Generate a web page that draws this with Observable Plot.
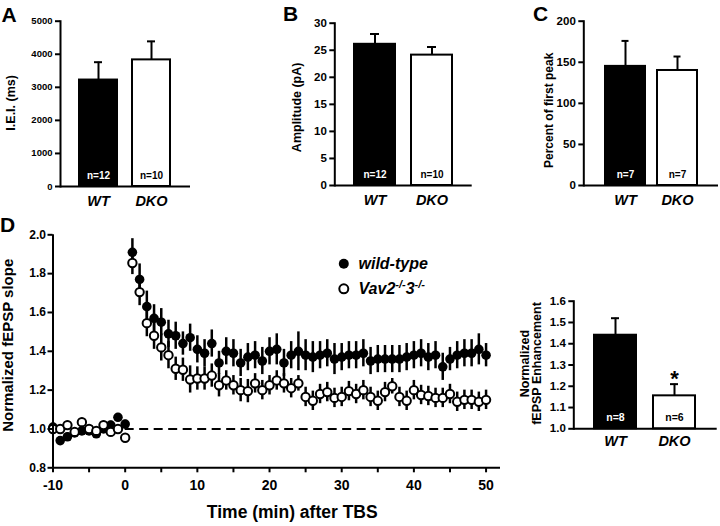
<!DOCTYPE html>
<html><head><meta charset="utf-8">
<script src="https://cdn.jsdelivr.net/npm/d3@7"></script>
<script src="https://cdn.jsdelivr.net/npm/@observablehq/plot@0.6"></script>
<style>
body{margin:0;background:#fff;}
#root{position:relative;width:720px;height:526px;overflow:hidden;font-family:"Liberation Sans",Arial,sans-serif;background:#fff;}
#root svg{position:absolute;overflow:visible;}
.letter{position:absolute;font-weight:bold;font-size:21px;line-height:21px;color:#000;}
</style></head><body><div id="root"></div>
<script>
// ---------- data ----------
const groups = ["WT", "DKO"];
// Panel A
const ieiMean = [3220, 3830];
const ieiSem = [540, 560];
const ieiN = [12, 10];
const ieiTicks = [0, 1000, 2000, 3000, 4000, 5000];
// Panel B
const ampMean = [26.1, 24.1];
const ampSem = [1.9, 1.5];
const ampN = [12, 10];
const ampTicks = [0, 5, 10, 15, 20, 25, 30];
// Panel C
const pctMean = [145, 140];
const pctSem = [31, 17];
const pctN = [7, 7];
const pctTicks = [0, 50, 100, 150, 200];
// Panel D (time course)
const tD = [-10,-9,-8,-7,-6,-5,-4,-3,-2,-1,0,
  1,2,3,4,5,6,7,8,9,10,11,12,13,14,15,16,17,18,19,20,
  21,22,23,24,25,26,27,28,29,30,31,32,33,34,35,36,37,38,39,40,
  41,42,43,44,45,46,47,48,49,50];
const wtMean = [1.01,0.94,0.96,0.98,0.99,0.99,0.975,1.00,1.02,1.06,1.025,
  1.91,1.77,1.63,1.57,1.55,1.49,1.48,1.44,1.47,1.41,
  1.39,1.44,1.34,1.40,1.39,1.34,1.37,1.38,1.35,1.40,
  1.41,1.34,1.38,1.40,1.38,1.37,1.38,1.39,1.36,1.37,
  1.38,1.38,1.39,1.35,1.36,1.36,1.36,1.36,1.37,1.38,
  1.39,1.37,1.38,1.32,1.36,1.38,1.39,1.39,1.41,1.38];
const wtSem = [0.02,0.02,0.02,0.02,0.02,0.02,0.02,0.02,0.02,0.02,0.02,
  0.07,0.08,0.08,0.07,0.07,0.07,0.07,0.06,0.07,0.07,
  0.07,0.07,0.06,0.07,0.07,0.07,0.07,0.07,0.07,0.07,
  0.08,0.07,0.07,0.10,0.08,0.08,0.07,0.07,0.08,0.07,
  0.07,0.07,0.07,0.07,0.07,0.07,0.07,0.07,0.07,0.07,
  0.07,0.07,0.07,0.07,0.06,0.07,0.07,0.07,0.08,0.06];
const dkoMean = [1.00,1.00,1.02,0.985,1.035,1.00,0.99,1.02,0.985,1.00,0.955,
  1.855,1.705,1.545,1.48,1.42,1.38,1.31,1.305,1.255,1.26,
  1.26,1.275,1.225,1.25,1.225,1.20,1.195,1.235,1.20,1.225,
  1.25,1.235,1.21,1.235,1.165,1.145,1.18,1.19,1.16,1.165,
  1.195,1.18,1.20,1.165,1.145,1.19,1.22,1.165,1.145,1.20,
  1.175,1.17,1.16,1.16,1.18,1.14,1.15,1.15,1.14,1.15];
const dkoSem = [0.02,0.02,0.02,0.02,0.02,0.02,0.02,0.02,0.02,0.02,0.02,
  0.06,0.07,0.07,0.07,0.07,0.07,0.06,0.06,0.07,0.06,
  0.06,0.06,0.06,0.05,0.05,0.06,0.06,0.05,0.05,0.05,
  0.05,0.05,0.05,0.04,0.05,0.05,0.05,0.05,0.05,0.05,
  0.05,0.05,0.05,0.05,0.05,0.05,0.04,0.05,0.05,0.05,
  0.05,0.05,0.05,0.05,0.05,0.05,0.05,0.05,0.05,0.05];
const xTicksD = [-10,-5,0,5,10,15,20,25,30,35,40,45,50];
const yTicksD = [0.8,1.0,1.2,1.4,1.6,1.8,2.0];
const baselineRef = [{y: 1, x1: 0, x2: 50}];
const legendLabels = ["wild-type", "Vav2-/-3-/-"];
// Panel E (enhancement)
const enhMean = [1.44, 1.155];
const enhSem = [0.08, 0.055];
const enhN = [8, 6];
const enhSig = ["", "*"];
const enhTicks = [1.0, 1.1, 1.2, 1.3, 1.4, 1.5, 1.6];

// ---------- helpers ----------
const FONT = "Liberation Sans, Arial, sans-serif";
const root = document.getElementById("root");

function place(svg, left, top) {
  svg.style.left = left + "px";
  svg.style.top = top + "px";
  root.appendChild(svg);
}

function barPanel(o) {
  const base = o.domain[0];
  const data = groups.map((g, i) => ({group: g, base, mean: o.mean[i], sem: o.sem[i], n: "n=" + o.n[i], sig: o.sig ? o.sig[i] : ""}));
  const marks = [
    Plot.barY(data, {x: "group", y1: "base", y2: "mean", fill: "group", stroke: "black", strokeWidth: 2}),
    Plot.ruleX(data, {x: "group", y1: "mean", y2: d => d.mean + d.sem, strokeWidth: 2}),
    Plot.tickY(data, {x: "group", y: d => d.mean + d.sem, strokeWidth: 2, insetLeft: o.capInset, insetRight: o.capInset}),
    Plot.text(data, {filter: d => d.group === "WT", x: "group", y: "base", text: "n", dy: o.nDy, fill: "white", fontSize: o.nFont, fontWeight: "bold"}),
    Plot.text(data, {filter: d => d.group === "DKO", x: "group", y: "base", text: "n", dy: o.nDy, fill: "black", fontSize: o.nFont, fontWeight: "bold"}),
    Plot.axisY({ticks: o.ticks, tickSize: 5, tickPadding: 3, tickFormat: o.fmt, fontSize: o.tickFont, fontWeight: "bold", strokeWidth: 2, label: null}),
    Plot.axisX({tickSize: 0, tickPadding: o.catPad, fontSize: o.catFont, fontWeight: "bold", fontStyle: "italic", label: null}),
    Plot.ruleY([base], {strokeWidth: 2}),
    Plot.frame({anchor: "left", strokeWidth: 2}),
    Plot.text([o.label], {frameAnchor: "left", rotate: -90, dx: o.labelDx, dy: o.labelDy, textAnchor: "middle", lineAnchor: "middle", fontSize: o.labelFont, fontWeight: "bold", lineHeight: o.lineHeight || 1})
  ];
  if (o.sig) {
    marks.push(Plot.text(data, {x: "group", y: d => d.mean + d.sem, text: "sig", dy: o.sigDy, fontSize: 22, fontWeight: "bold", lineAnchor: "middle"}));
  }
  const svg = Plot.plot({
    width: o.width, height: o.height,
    marginLeft: o.ml, marginRight: o.mr, marginTop: o.mt, marginBottom: o.mb,
    style: {background: "transparent", fontFamily: FONT, color: "black", overflow: "visible"},
    x: {domain: groups, paddingInner: o.pi, paddingOuter: o.po},
    y: {domain: o.domain},
    color: {domain: groups, range: ["black", "white"]},
    marks
  });
  place(svg, o.left, o.top);
}

// ---------- Panel A ----------
barPanel({left: 0, top: 0, width: 240, height: 220, ml: 60, mr: 50, mt: 20.7, mb: 34,
  domain: [0, 5000], ticks: ieiTicks, fmt: d => String(d), mean: ieiMean, sem: ieiSem, n: ieiN,
  pi: 0.28, po: 0.365, capInset: 15, nFont: 10, nDy: -11, tickFont: 9.5, catFont: 14.5, catPad: 9,
  label: "I.E.I. (ms)", labelDx: -49.5, labelDy: -1, labelFont: 12.5});

// ---------- Panel B ----------
barPanel({left: 240, top: 0, width: 240, height: 220, ml: 94.3, mr: 8.3, mt: 22.7, mb: 35,
  domain: [0, 30], ticks: ampTicks, fmt: d => String(d), mean: ampMean, sem: ampSem, n: ampN,
  pi: 0.284, po: 0.34, capInset: 16, nFont: 10, nDy: -11, tickFont: 11.5, catFont: 14.5, catPad: 9,
  label: "Amplitude (pA)", labelDx: -38.3, labelDy: 3, labelFont: 12.5});

// ---------- Panel C ----------
barPanel({left: 480, top: 0, width: 240, height: 220, ml: 103.3, mr: 2, mt: 20.7, mb: 35,
  domain: [0, 200], ticks: pctTicks, fmt: d => String(d), mean: pctMean, sem: pctSem, n: pctN,
  pi: 0.24, po: 0.4, capInset: 16.5, nFont: 10, nDy: -11, tickFont: 11.5, catFont: 14.5, catPad: 9,
  label: "Percent of first peak", labelDx: -34.3, labelDy: 7, labelFont: 12});

// ---------- Panel E ----------
barPanel({left: 500, top: 280, width: 220, height: 180, ml: 73.3, mr: 3.3, mt: 20.7, mb: 31.7,
  domain: [1.0, 1.6], ticks: enhTicks, fmt: d3.format(".1f"), mean: enhMean, sem: enhSem, n: enhN, sig: enhSig, sigDy: -5,
  pi: 0.285, po: 0.35, capInset: 17, nFont: 10.5, nDy: -11, tickFont: 11.5, catFont: 14.5, catPad: 7,
  label: "Normalized\nfEPSP Enhancement", labelDx: -42.5, labelDy: -1.5, labelFont: 12.5, lineHeight: 0.95});

// ---------- Panel D ----------
const wtData = tD.map((t, i) => ({t, m: wtMean[i], e: wtSem[i]}));
const dkoData = tD.map((t, i) => ({t, m: dkoMean[i], e: dkoSem[i]}));
const svgD = Plot.plot({
  width: 510, height: 306, marginLeft: 52.5, marginRight: 10, marginTop: 14.3, marginBottom: 58.7,
  style: {background: "transparent", fontFamily: FONT, color: "black", overflow: "visible"},
  x: {domain: [-10, 52]},
  y: {domain: [0.8, 2.0]},
  marks: [
    Plot.ruleY(baselineRef, {y: "y", x1: "x1", x2: "x2", strokeWidth: 2, strokeDasharray: "9,5.5"}),
    Plot.ruleX(wtData, {x: "t", y1: d => d.m - d.e, y2: d => d.m + d.e, strokeWidth: 2.5}),
    Plot.dot(wtData, {x: "t", y: "m", r: 4.8, fill: "black"}),
    Plot.ruleX(dkoData, {x: "t", y1: d => d.m - d.e, y2: d => d.m + d.e, strokeWidth: 2.5}),
    Plot.dot(dkoData, {x: "t", y: "m", r: 4.2, fill: "white", stroke: "black", strokeWidth: 2}),
    Plot.ruleY([0.8], {strokeWidth: 2}),
    Plot.ruleX([-10], {strokeWidth: 2}),
    Plot.axisY({ticks: yTicksD, tickSize: 5, tickPadding: 2, tickFormat: d3.format(".1f"), fontSize: 12, fontWeight: "bold", strokeWidth: 2, label: null}),
    Plot.axisX({ticks: xTicksD, tickSize: 5, tickPadding: 7, tickFormat: d => (d % 10 === 0 ? String(d) : ""), fontSize: 14, fontWeight: "bold", strokeWidth: 2, label: null}),
    Plot.text(["Time (min) after TBS"], {frameAnchor: "bottom", dx: 15.5, dy: 44.7, textAnchor: "middle", lineAnchor: "middle", fontSize: 17.5, fontWeight: "bold"}),
    Plot.text(["Normalized fEPSP slope"], {frameAnchor: "left", rotate: -90, dx: -44.5, dy: -6, textAnchor: "middle", lineAnchor: "middle", fontSize: 15, fontWeight: "bold"}),
    // legend
    Plot.dot([legendLabels[0]], {frameAnchor: "top-left", dx: 290.8, dy: 29, r: 5, fill: "black"}),
    Plot.dot([legendLabels[1]], {frameAnchor: "top-left", dx: 290.8, dy: 54, r: 4.5, fill: "white", stroke: "black", strokeWidth: 2}),
    Plot.text([legendLabels[0]], {frameAnchor: "top-left", dx: 305.5, dy: 29, textAnchor: "start", lineAnchor: "middle", fontSize: 16, fontWeight: "bold", fontStyle: "italic"}),
    Plot.text([legendLabels[1]], {frameAnchor: "top-left", dx: 305.5, dy: 54, textAnchor: "start", lineAnchor: "middle", fontSize: 16, fontWeight: "bold", fontStyle: "italic"})
  ]
});
d3.select(svgD).selectAll("text").filter(function () { return this.textContent === legendLabels[1]; }).each(function () {
  const t = d3.select(this);
  t.text(null);
  t.append("tspan").text("Vav2");
  t.append("tspan").attr("dy", -6).attr("font-size", 11).text("-/-");
  t.append("tspan").attr("dy", 6).text("3");
  t.append("tspan").attr("dy", -6).attr("font-size", 11).text("-/-");
});
place(svgD, 0, 220);

// ---------- panel letters ----------
[["A", 1.5, 4], ["B", 283, 2.5], ["C", 533, 2.5], ["D", 0, 214]].forEach(([l, x, y]) => {
  const d = document.createElement("div");
  d.className = "letter";
  d.textContent = l;
  d.style.left = x + "px";
  d.style.top = y + "px";
  root.appendChild(d);
});
</script>
</body></html>
